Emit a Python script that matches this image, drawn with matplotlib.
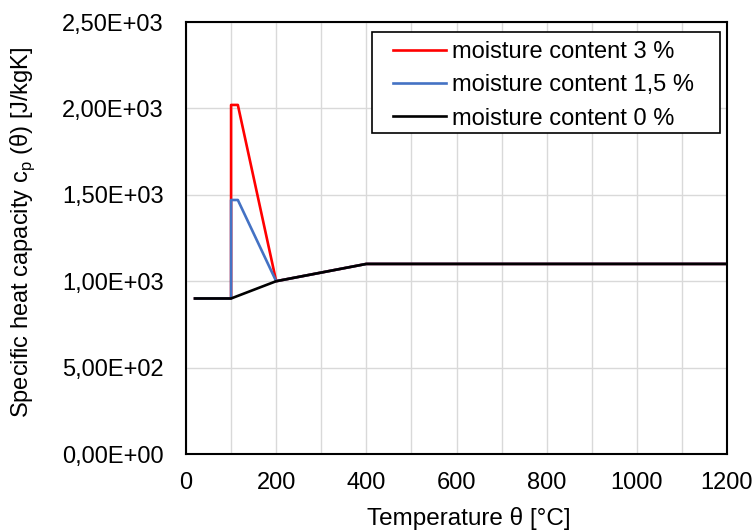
import matplotlib.pyplot as plt
from matplotlib.patches import Rectangle
from matplotlib.ticker import FuncFormatter, MultipleLocator

plt.rcParams['font.family'] = ['Liberation Sans', 'DejaVu Sans']

# temperature [°C] and specific heat [J/kgK]
temp_3 = [20, 100, 100, 115, 200, 400, 1200]
cp_3 = [900, 900, 2020, 2020, 1000, 1100, 1100]

temp_15 = [20, 100, 100, 115, 200, 400, 1200]
cp_15 = [900, 900, 1470, 1470, 1000, 1100, 1100]

temp_0 = [20, 100, 200, 400, 1200]
cp_0 = [900, 900, 1000, 1100, 1100]


def sci_comma(v, pos):
    return f'{v:.2E}'.replace('.', ',')


fig = plt.figure(figsize=(7.56, 5.32), dpi=100)
ax = fig.add_axes([186 / 756, 1 - 454 / 532, 541 / 756, 432 / 532])

ax.plot(temp_3, cp_3, color='#ff0000', lw=1.9, label='moisture content 3 %')
ax.plot(temp_15, cp_15, color='#4472c4', lw=1.9, label='moisture content 1,5 %')
ax.plot(temp_0, cp_0, color='black', lw=1.9, label='moisture content 0 %')

ax.set_xlim(0, 1200)
ax.set_ylim(0, 2500)
ax.xaxis.set_major_locator(MultipleLocator(200))
ax.xaxis.set_minor_locator(MultipleLocator(100))
ax.yaxis.set_major_locator(MultipleLocator(500))
ax.yaxis.set_major_formatter(FuncFormatter(sci_comma))
ax.grid(True, which='both', color='#d9d9d9', lw=1)
ax.set_axisbelow(True)
ax.tick_params(which='both', length=0, labelsize=17)
ax.tick_params(axis='x', pad=13)
ax.tick_params(axis='y', pad=16)

for s in ax.spines.values():
    s.set_linewidth(1.5)
    s.set_color('black')

ax.set_xlabel('Temperature θ [°C]', fontsize=17.5)
ax.set_ylabel('Specific heat capacity c$_\\mathregular{p}$ (θ) [J/kgK]', fontsize=17)
ax.xaxis.set_label_coords(0.523, -0.122)
ax.yaxis.set_label_coords(-0.275, 0.514)

# legend entries without frame, border drawn separately
ax.legend(loc='upper left', bbox_to_anchor=(0.383, 0.956), fontsize=17,
          frameon=False, handlelength=2.25, handletextpad=0.25,
          labelspacing=0.48, borderpad=0, borderaxespad=0)
ax.add_patch(Rectangle((0.344, 0.743), 0.643, 0.234, transform=ax.transAxes,
                       facecolor='white', edgecolor='black', lw=1.2, zorder=4))
ax.get_legend().set_zorder(5)

fig.savefig('out.png', dpi=100)
